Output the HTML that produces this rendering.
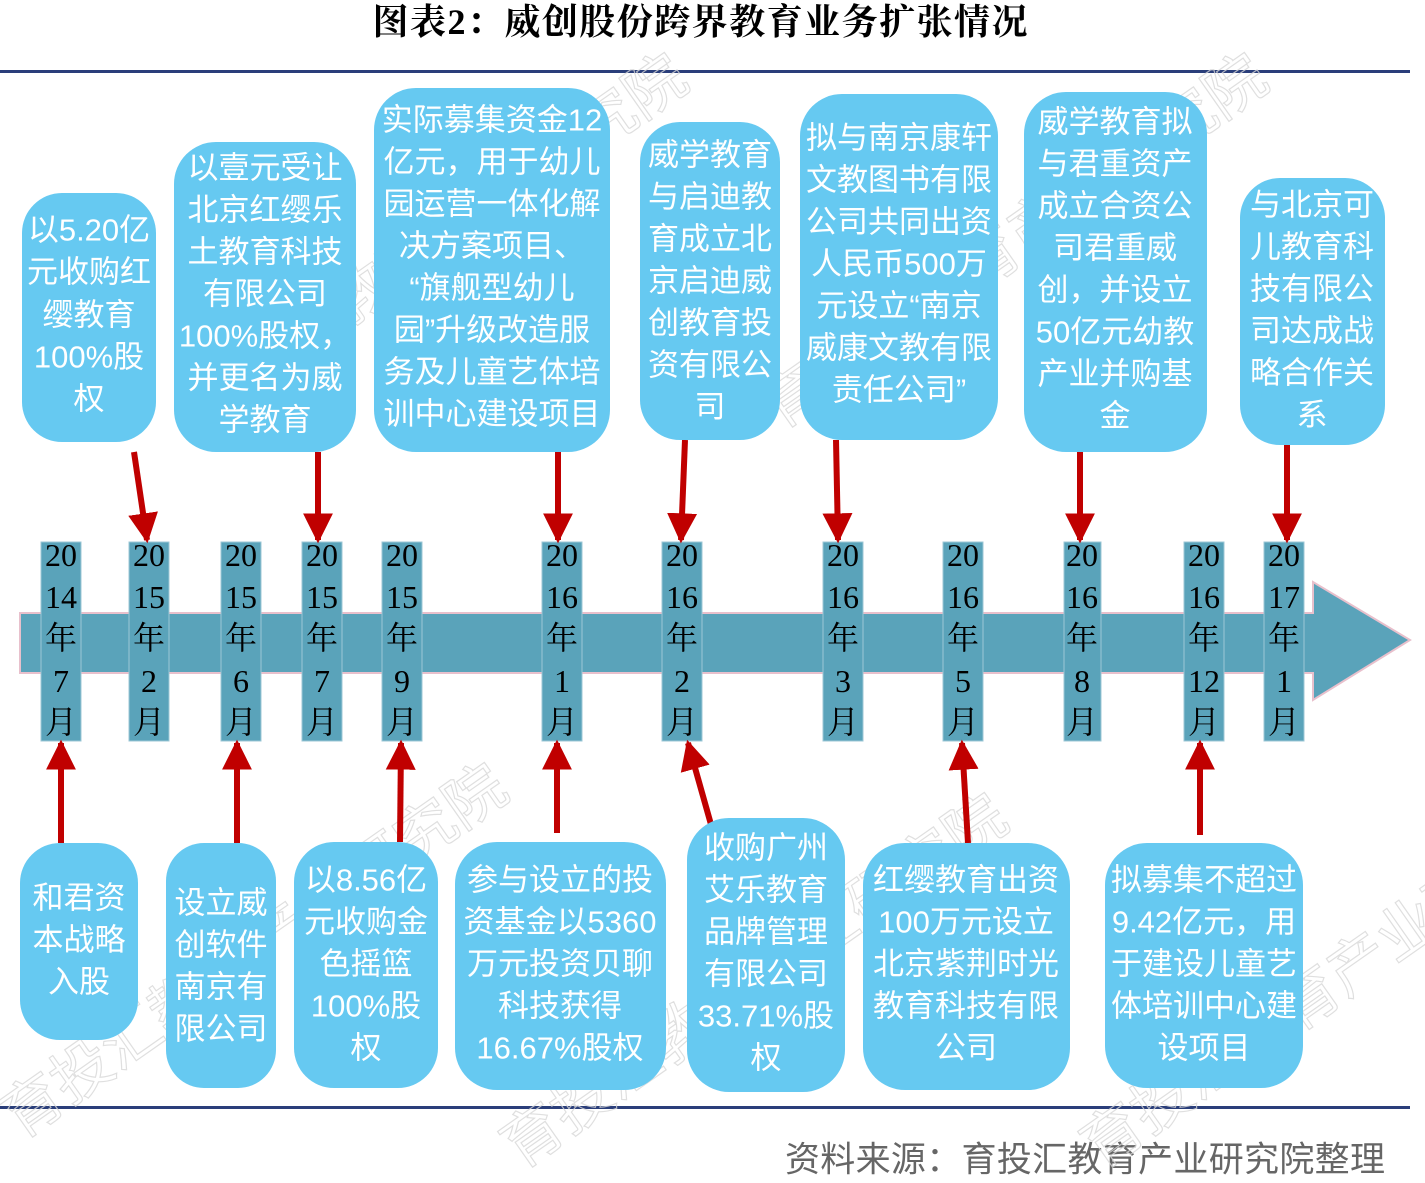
<!DOCTYPE html>
<html><head><meta charset="utf-8"><style>
html,body{margin:0;padding:0;background:#fff;}
svg{display:block;}
.bx{fill:#66c9f1;}
.bt{font-family:"Liberation Sans","Noto Sans CJK SC",sans-serif;font-size:31px;fill:#fff;text-anchor:middle;dominant-baseline:central;}
.dt{font-family:"Liberation Serif","Noto Serif CJK SC",serif;font-size:32px;fill:#000;text-anchor:middle;dominant-baseline:central;}
.col{fill:#5aa3ba;stroke:#9cc7d6;stroke-width:1;}
.ar{stroke:#c00000;stroke-width:6;fill:none;}
.wm{font-family:"Noto Sans CJK SC",sans-serif;font-size:60px;fill:none;stroke:#d8d8d8;stroke-width:1.2;}
</style></head><body>
<svg width="1425" height="1183" viewBox="0 0 1425 1183" xmlns="http://www.w3.org/2000/svg">
<defs><marker id="ah" markerWidth="5" markerHeight="9" refX="8" refY="4.5" viewBox="0 0 9 9" orient="auto" markerUnits="strokeWidth"><path d="M0,0 L9,4.5 L0,9 Z" fill="#c00000"/></marker></defs>
<text x="700" y="22" style="font-family:'Liberation Serif','Noto Serif CJK SC',serif;font-size:36px;font-weight:bold;text-anchor:middle;dominant-baseline:central" textLength="655">图表2：威创股份跨界教育业务扩张情况</text>
<rect x="0" y="70" width="1410" height="3" fill="#2a3e7a"/>
<rect x="0" y="1106" width="1410" height="3" fill="#2a3e7a"/>
<text x="1385" y="1160" style="font-family:'Liberation Sans','Noto Sans CJK SC',sans-serif;font-size:35px;fill:#666;text-anchor:end;dominant-baseline:central" textLength="600">资料来源：育投汇教育产业研究院整理</text>

<!-- watermarks -->
<g opacity="0.8">
<text class="wm" transform="translate(200,430) rotate(-35)">育投汇教育产业研究院</text>
<text class="wm" transform="translate(780,430) rotate(-35)">育投汇教育产业研究院</text>
<text class="wm" transform="translate(20,1140) rotate(-35)">育投汇教育产业研究院</text>
<text class="wm" transform="translate(520,1170) rotate(-35)">育投汇教育产业研究院</text>
<text class="wm" transform="translate(1100,1170) rotate(-35)">育投汇教育产业研究院</text>
</g>

<!-- big arrow -->
<path d="M20,613 L1313,613 L1313,582 L1410,640 L1313,700 L1313,673 L20,673 Z" fill="#5aa3ba" stroke="#e8c0cc" stroke-width="2"/>

<!-- date columns -->
<g>
<rect class="col" x="41" y="542" width="40" height="199"/>
<rect class="col" x="129" y="542" width="40" height="199"/>
<rect class="col" x="221" y="542" width="40" height="199"/>
<rect class="col" x="302" y="542" width="40" height="199"/>
<rect class="col" x="382" y="542" width="40" height="199"/>
<rect class="col" x="542" y="542" width="40" height="199"/>
<rect class="col" x="662" y="542" width="40" height="199"/>
<rect class="col" x="823" y="542" width="40" height="199"/>
<rect class="col" x="943" y="542" width="40" height="199"/>
<rect class="col" x="1064" y="542" width="37" height="199"/>
<rect class="col" x="1184" y="542" width="40" height="199"/>
<rect class="col" x="1264" y="542" width="40" height="199"/>
</g>
<g class="dt">
<text x="61" y="555">20</text><text x="61" y="597">14</text><text x="61" y="638">年</text><text x="61" y="681">7</text><text x="61" y="722">月</text>
<text x="149" y="555">20</text><text x="149" y="597">15</text><text x="149" y="638">年</text><text x="149" y="681">2</text><text x="149" y="722">月</text>
<text x="241" y="555">20</text><text x="241" y="597">15</text><text x="241" y="638">年</text><text x="241" y="681">6</text><text x="241" y="722">月</text>
<text x="322" y="555">20</text><text x="322" y="597">15</text><text x="322" y="638">年</text><text x="322" y="681">7</text><text x="322" y="722">月</text>
<text x="402" y="555">20</text><text x="402" y="597">15</text><text x="402" y="638">年</text><text x="402" y="681">9</text><text x="402" y="722">月</text>
<text x="562" y="555">20</text><text x="562" y="597">16</text><text x="562" y="638">年</text><text x="562" y="681">1</text><text x="562" y="722">月</text>
<text x="682" y="555">20</text><text x="682" y="597">16</text><text x="682" y="638">年</text><text x="682" y="681">2</text><text x="682" y="722">月</text>
<text x="843" y="555">20</text><text x="843" y="597">16</text><text x="843" y="638">年</text><text x="843" y="681">3</text><text x="843" y="722">月</text>
<text x="963" y="555">20</text><text x="963" y="597">16</text><text x="963" y="638">年</text><text x="963" y="681">5</text><text x="963" y="722">月</text>
<text x="1082" y="555">20</text><text x="1082" y="597">16</text><text x="1082" y="638">年</text><text x="1082" y="681">8</text><text x="1082" y="722">月</text>
<text x="1204" y="555">20</text><text x="1204" y="597">16</text><text x="1204" y="638">年</text><text x="1204" y="681">12</text><text x="1204" y="722">月</text>
<text x="1284" y="555">20</text><text x="1284" y="597">17</text><text x="1284" y="638">年</text><text x="1284" y="681">1</text><text x="1284" y="722">月</text>
</g>

<!-- arrows top -->
<g class="ar">
<line x1="134" y1="452" x2="147" y2="540" marker-end="url(#ah)"/>
<line x1="318" y1="452" x2="318" y2="540" marker-end="url(#ah)"/>
<line x1="558" y1="452" x2="558" y2="540" marker-end="url(#ah)"/>
<line x1="685" y1="440" x2="681" y2="540" marker-end="url(#ah)"/>
<line x1="836" y1="440" x2="838" y2="540" marker-end="url(#ah)"/>
<line x1="1080" y1="452" x2="1080" y2="540" marker-end="url(#ah)"/>
<line x1="1287" y1="445" x2="1287" y2="540" marker-end="url(#ah)"/>
<!-- bottom -->
<line x1="61" y1="843" x2="61" y2="743" marker-end="url(#ah)"/>
<line x1="237" y1="843" x2="237" y2="743" marker-end="url(#ah)"/>
<line x1="400" y1="842" x2="401" y2="743" marker-end="url(#ah)"/>
<line x1="557" y1="833" x2="557" y2="743" marker-end="url(#ah)"/>
<line x1="712" y1="828" x2="688" y2="743" marker-end="url(#ah)"/>
<line x1="968" y1="843" x2="962" y2="743" marker-end="url(#ah)"/>
<line x1="1200" y1="835" x2="1200" y2="743" marker-end="url(#ah)"/>
</g>

<!-- top boxes -->
<rect class="bx" x="22" y="193" width="134" height="249" rx="40"/>
<rect class="bx" x="174" y="142" width="182" height="310" rx="42"/>
<rect class="bx" x="374" y="88" width="236" height="364" rx="42"/>
<rect class="bx" x="640" y="122" width="140" height="318" rx="40"/>
<rect class="bx" x="800" y="94" width="198" height="346" rx="42"/>
<rect class="bx" x="1024" y="92" width="183" height="360" rx="42"/>
<rect class="bx" x="1240" y="178" width="145" height="267" rx="40"/>
<!-- bottom boxes -->
<rect class="bx" x="20" y="843" width="118" height="197" rx="40"/>
<rect class="bx" x="166" y="843" width="110" height="245" rx="38"/>
<rect class="bx" x="294" y="842" width="144" height="246" rx="40"/>
<rect class="bx" x="455" y="842" width="211" height="248" rx="42"/>
<rect class="bx" x="687" y="818" width="158" height="274" rx="42"/>
<rect class="bx" x="863" y="843" width="207" height="247" rx="42"/>
<rect class="bx" x="1105" y="843" width="198" height="245" rx="42"/>

<g class="bt">
<text x="89" y="230">以5.20亿</text><text x="89" y="272">元收购红</text><text x="89" y="315">缨教育</text><text x="89" y="357">100%股</text><text x="89" y="399">权</text>

<text x="265" y="168">以壹元受让</text><text x="265" y="210">北京红缨乐</text><text x="265" y="252">土教育科技</text><text x="265" y="294">有限公司</text><text x="265" y="336">100%股权，</text><text x="265" y="378">并更名为威</text><text x="265" y="420">学教育</text>

<text x="492" y="120">实际募集资金12</text><text x="492" y="162">亿元，用于幼儿</text><text x="492" y="204">园运营一体化解</text><text x="492" y="246">决方案项目、</text><text x="492" y="288">“旗舰型幼儿</text><text x="492" y="330">园”升级改造服</text><text x="492" y="372">务及儿童艺体培</text><text x="492" y="414">训中心建设项目</text>

<text x="710" y="155">威学教育</text><text x="710" y="197">与启迪教</text><text x="710" y="239">育成立北</text><text x="710" y="281">京启迪威</text><text x="710" y="323">创教育投</text><text x="710" y="365">资有限公</text><text x="710" y="407">司</text>

<text x="899" y="138">拟与南京康轩</text><text x="899" y="180">文教图书有限</text><text x="899" y="222">公司共同出资</text><text x="899" y="264">人民币500万</text><text x="899" y="306">元设立“南京</text><text x="899" y="348">威康文教有限</text><text x="899" y="390">责任公司”</text>

<text x="1115" y="122">威学教育拟</text><text x="1115" y="164">与君重资产</text><text x="1115" y="206">成立合资公</text><text x="1115" y="248">司君重威</text><text x="1115" y="290">创，并设立</text><text x="1115" y="332">50亿元幼教</text><text x="1115" y="374">产业并购基</text><text x="1115" y="416">金</text>

<text x="1312" y="205">与北京可</text><text x="1312" y="247">儿教育科</text><text x="1312" y="289">技有限公</text><text x="1312" y="331">司达成战</text><text x="1312" y="373">略合作关</text><text x="1312" y="415">系</text>

<text x="79" y="898">和君资</text><text x="79" y="940">本战略</text><text x="79" y="982">入股</text>

<text x="221" y="903">设立威</text><text x="221" y="945">创软件</text><text x="221" y="987">南京有</text><text x="221" y="1029">限公司</text>

<text x="366" y="880">以8.56亿</text><text x="366" y="922">元收购金</text><text x="366" y="964">色摇篮</text><text x="366" y="1006">100%股</text><text x="366" y="1048">权</text>

<text x="560" y="880">参与设立的投</text><text x="560" y="922">资基金以5360</text><text x="560" y="964">万元投资贝聊</text><text x="560" y="1006">科技获得</text><text x="560" y="1048">16.67%股权</text>

<text x="766" y="848">收购广州</text><text x="766" y="890">艾乐教育</text><text x="766" y="932">品牌管理</text><text x="766" y="974">有限公司</text><text x="766" y="1016">33.71%股</text><text x="766" y="1058">权</text>

<text x="966" y="880">红缨教育出资</text><text x="966" y="922">100万元设立</text><text x="966" y="964">北京紫荆时光</text><text x="966" y="1006">教育科技有限</text><text x="966" y="1048">公司</text>

<text x="1204" y="880">拟募集不超过</text><text x="1204" y="922">9.42亿元，用</text><text x="1204" y="964">于建设儿童艺</text><text x="1204" y="1006">体培训中心建</text><text x="1204" y="1048">设项目</text>
</g>
</svg>
</body></html>
